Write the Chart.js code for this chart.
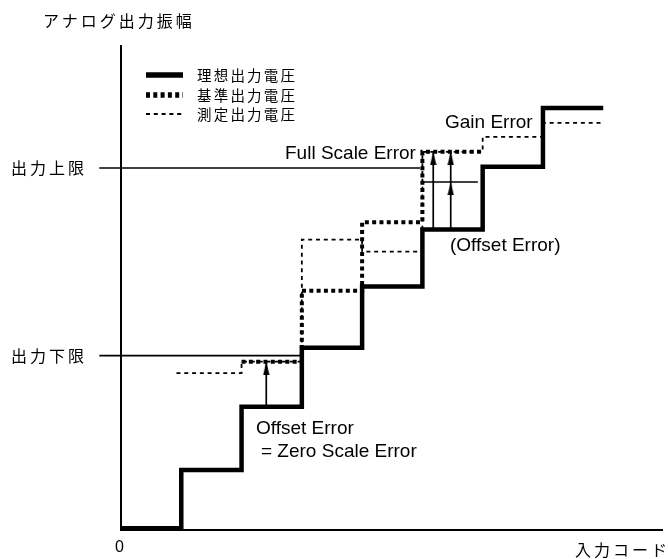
<!DOCTYPE html>
<html>
<head>
<meta charset="utf-8">
<script src="https://cdn.jsdelivr.net/npm/chart.js@4.4.0/dist/chart.umd.min.js"></script>
<style>
  body { margin: 0; background: #fff; }
  #wrap { position: relative; width: 668px; height: 559px; overflow: hidden; }
  #dacChart { position: absolute; left: 0; top: 0; }
  .lbl { position: absolute; white-space: nowrap; color: #000; line-height: 1; }
  .jp { font-family: "Noto Sans CJK JP", sans-serif; font-size: 16px; letter-spacing: 3px; }
  .en { font-family: "Liberation Sans", Arial, sans-serif; font-size: 19px; }
  .legend-row { position: absolute; left: 146px; }
  .legend-row canvas { position: absolute; left: 0; top: 0; }
  .legend-row span { position: absolute; left: 51px; top: 2px; white-space: nowrap;
    font-family: "Noto Sans CJK JP", sans-serif; font-size: 14.5px; letter-spacing: 2.2px; line-height: 1; }
</style>
</head>
<body>
<div id="wrap">
  <canvas id="dacChart" width="668" height="559"></canvas>
  <div class="lbl jp" style="left:43px; top:12px;">アナログ出力振幅</div>
  <div class="lbl jp" style="left:575px; top:541px;">入力コード</div>
  <div class="lbl en" style="left:445px; top:112px;">Gain Error</div>
  <div class="lbl en" style="left:285px; top:143px;">Full Scale Error</div>
  <div class="lbl en" style="left:450px; top:235px;">(Offset Error)</div>
  <div class="lbl en" style="left:256px; top:418px;">Offset Error</div>
  <div class="lbl en" style="left:261px; top:441px;">= Zero Scale Error</div>
  <div id="legend"></div>
</div>
<script>
// DAC transfer curve: ideal, reference and measured output steps
const codes = [0, 1, 2, 3, 4, 5, 6, 7, 8];
const idealLevels = [0.03, 1.0, 2.05, 3.03, 4.05, 5.0, 6.04, 7.02, 7.02];
const refCodes = [2, 3, 4, 5, 6];
const refLevels = [2.8, 3.98, 5.12, 6.29, 6.29];
const measCodes = [0.92, 2, 3, 4, 5, 6, 7, 7.97];
const measLevels = [2.61, 2.8, 4.83, 4.63, 6.29, 6.54, 6.77, 6.77];
const seriesLabels = ['理想出力電圧', '基準出力電圧', '測定出力電圧'];

// output limits (also the y tick labels)
const limitLabels = ['出力下限', '出力上限'];
const limitLevels = [2.9, 6.02];
const limitEnds = [3.02, 4.96];
const limitStart = -0.36;

// error arrows
const arrowCodes = [2.41, 5.18, 5.47];
const arrowLevels = [[2.05, 2.8], [5.0, 6.29], [5.0, 5.79, 6.29]];
const offsetBarCodes = [5.02, 5.92];
const offsetBarLevel = 5.79;

const xTickValues = [0];
const xTickLabels = ['0'];

const toPoints = (xs, ys) => xs.map((x, i) => ({ x: x, y: ys[i] }));

// narrow arrow head, apex at the canvas centre
const makeHead = () => {
    const c = document.createElement('canvas');
    c.width = 7;
    c.height = 26;
    const g = c.getContext('2d');
    g.fillStyle = '#000';
    g.beginPath();
    g.moveTo(3.5, 13);
    g.lineTo(6.6, 26);
    g.lineTo(0.4, 26);
    g.closePath();
    g.fill();
    return c;
};
const head = makeHead();

const datasets = [
    { label: seriesLabels[0], data: toPoints(codes, idealLevels), stepped: 'before',
      borderColor: '#000', borderWidth: 4.5, borderJoinStyle: 'miter', pointRadius: 0 },
    { label: seriesLabels[1], data: toPoints(refCodes, refLevels), stepped: 'before',
      borderColor: '#000', borderWidth: 4, borderDash: [4, 3.3], pointRadius: 0 },
    { label: seriesLabels[2], data: toPoints(measCodes, measLevels), stepped: 'before',
      borderColor: '#000', borderWidth: 1.8, borderDash: [4, 3.8], pointRadius: 0 }
];
limitLevels.forEach((lv, i) => {
    datasets.push({ data: [{ x: limitStart, y: lv }, { x: limitEnds[i], y: lv }],
        borderColor: '#000', borderWidth: 1.6, pointRadius: 0, clip: false });
});
datasets.push({ data: offsetBarCodes.map(c => ({ x: c, y: offsetBarLevel })),
    borderColor: '#000', borderWidth: 1.5, pointRadius: 0 });
arrowCodes.forEach((c, i) => {
    datasets.push({
        data: arrowLevels[i].map(v => ({ x: c, y: v })),
        borderColor: '#000', borderWidth: 1.7,
        pointStyle: ctx => ctx.dataIndex > 0 ? head : 'circle',
        pointRadius: ctx => ctx.dataIndex > 0 ? 1 : 0
    });
});

// the figure's japanese labels are set with wide letter spacing
const spacedText = {
    id: 'spacedText',
    beforeDraw: chart => { chart.ctx.letterSpacing = '3px'; }
};

const chart = new Chart(document.getElementById('dacChart'), {
    type: 'line',
    data: { datasets: datasets },
    plugins: [spacedText],
    options: {
        responsive: false,
        animation: false,
        events: [],
        devicePixelRatio: 1,
        layout: { padding: { left: 0, top: 46, right: 0, bottom: 0 } },
        scales: {
            x: {
                type: 'linear',
                min: 0,
                max: 8.98,
                grid: { display: false, drawTicks: false },
                border: { display: true, color: '#000', width: 2 },
                afterBuildTicks: axis => { axis.ticks = xTickValues.map(v => ({ value: v })); },
                afterFit: axis => { axis.height = 29; },
                ticks: {
                    autoSkip: false, maxRotation: 0, padding: 8, color: '#000',
                    font: { family: '"Liberation Sans", Arial, sans-serif', size: 16 },
                    callback: (v, i) => xTickLabels[i]
                }
            },
            y: {
                type: 'linear',
                min: 0,
                max: 8.05,
                grid: { display: false, drawTicks: true, tickLength: 34 },
                border: { display: true, color: '#000', width: 2 },
                afterBuildTicks: axis => { axis.ticks = limitLevels.map(v => ({ value: v })); },
                afterFit: axis => { axis.width = 121; },
                ticks: {
                    autoSkip: false, padding: 0, color: '#000',
                    font: { family: '"Noto Sans CJK JP", sans-serif', size: 16 },
                    callback: (v, i) => limitLabels[i]
                }
            }
        },
        plugins: {
            legend: { display: false },
            tooltip: { enabled: false }
        }
    }
});

// legend drawn as html rows, samples stroked like the datasets
const legendEl = document.getElementById('legend');
const legendWidths = [5.5, 5.5, 1.8];
const legendTops = [66, 86, 105];
datasets.slice(0, 3).forEach((ds, i) => {
    const row = document.createElement('div');
    row.className = 'legend-row';
    row.style.top = legendTops[i] + 'px';
    const sample = document.createElement('canvas');
    sample.width = 37;
    sample.height = 18;
    const g = sample.getContext('2d');
    g.strokeStyle = '#000';
    g.lineWidth = legendWidths[i];
    g.setLineDash(ds.borderDash || []);
    g.beginPath();
    g.moveTo(0, 9);
    g.lineTo(37, 9);
    g.stroke();
    const text = document.createElement('span');
    text.textContent = ds.label;
    row.appendChild(sample);
    row.appendChild(text);
    legendEl.appendChild(row);
});
</script>
</body>
</html>
